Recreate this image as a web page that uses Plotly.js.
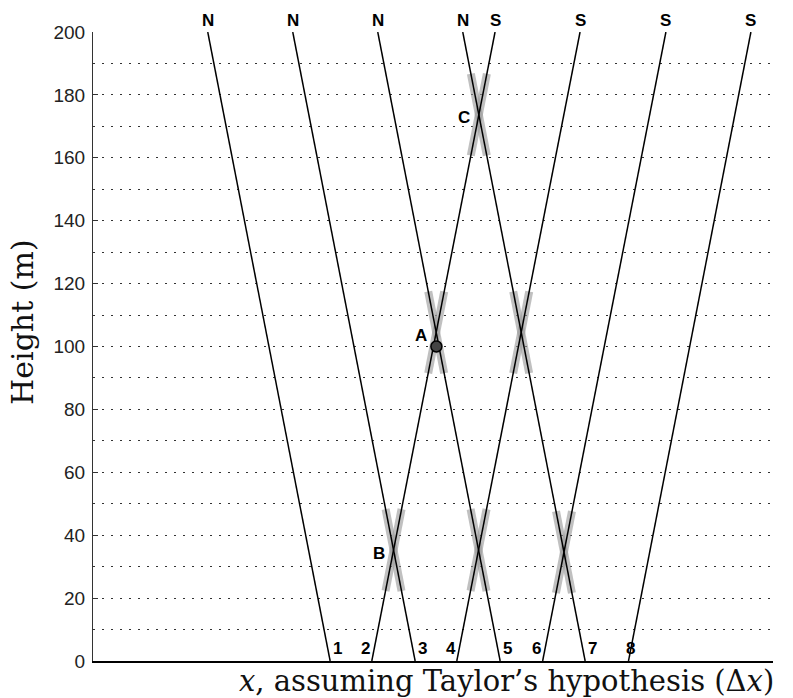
<!DOCTYPE html>
<html>
<head>
<meta charset="utf-8">
<script src="https://cdn.plot.ly/plotly-3.0.1.min.js"></script>
<style>html,body{margin:0;padding:0;background:#fff;}#chart{width:793px;height:698px;}</style>
</head>
<body>
<div id="chart"></div>
<script>
// ---- data ----
const nTopX = [1.35, 2.35, 3.35, 4.35];      // N lines, x at top (200 m)
const nBottomX = [2.79, 3.79, 4.79, 5.79];   // N lines, x at bottom (0 m)
const sBottomX = [3.28, 4.28, 5.29, 6.30];   // S lines, x at bottom (0 m)
const sTopX = [4.73, 5.73, 6.74, 7.74];      // S lines, x at top (200 m)
const heightBottom = 0;
const heightTop = 200;
const nLabel = 'N';
const sLabel = 'S';
const bottomNumbers = ['1','2','3','4','5','6','7','8'];
// crossings as [N line index, S line index]
const crossings = [[1,0],[2,1],[3,2],[2,0],[3,1],[3,0]];
const crossHalfSpan = 13;   // m, half height of grey X
const letterNames = ['B','A','C'];
const letterCrossing = [0, 3, 5];  // index into crossings
const pointAX = [4.04];
const pointAY = [100];
const yTicks = [0,20,40,60,80,100,120,140,160,180,200];

// ---- helpers ----
function lineX(x0, x1, h){ return x0 + (x1 - x0) * (h - heightBottom) / (heightTop - heightBottom); }
function crossing(ni, si){
  const a0 = nBottomX[ni], a1 = nTopX[ni], b0 = sBottomX[si], b1 = sTopX[si];
  const H = heightTop - heightBottom;
  const t = (b0 - a0) / ((a1 - a0) - (b1 - b0));
  const h = heightBottom + t * H;
  return {x: lineX(a0, a1, h), y: h};
}

const traces = [];
// grey X marks
crossings.forEach(([ni, si]) => {
  const c = crossing(ni, si);
  [[nBottomX[ni], nTopX[ni]], [sBottomX[si], sTopX[si]]].forEach(([x0, x1]) => {
    traces.push({
      x: [lineX(x0, x1, c.y - crossHalfSpan), lineX(x0, x1, c.y + crossHalfSpan)],
      y: [c.y - crossHalfSpan, c.y + crossHalfSpan],
      mode: 'lines', line: {color: 'rgba(150,150,150,0.6)', width: 8},
      hoverinfo: 'skip', showlegend: false
    });
  });
});
// black lines
for (let i = 0; i < nTopX.length; i++) {
  traces.push({x: [nBottomX[i], nTopX[i]], y: [heightBottom, heightTop], mode: 'lines',
    line: {color: '#000', width: 1.5}, showlegend: false, hoverinfo: 'skip'});
  traces.push({x: [sBottomX[i], sTopX[i]], y: [heightBottom, heightTop], mode: 'lines',
    line: {color: '#000', width: 1.5}, showlegend: false, hoverinfo: 'skip'});
}
// point A
traces.push({x: pointAX, y: pointAY, mode: 'markers',
  marker: {size: 11, color: '#444', line: {color: '#000', width: 1.5}},
  showlegend: false, hoverinfo: 'skip'});

const annotations = [];
const labFont = {family: 'Liberation Sans, Arial, sans-serif', size: 17, color: '#000'};
for (let i = 0; i < nTopX.length; i++) {
  annotations.push({x: nTopX[i], y: heightTop, text: '<b>' + nLabel + '</b>', showarrow: false,
    yshift: 12, font: labFont});
  annotations.push({x: sTopX[i], y: heightTop, text: '<b>' + sLabel + '</b>', showarrow: false,
    yshift: 12, font: labFont});
}
// bottom numbers: order along the bottom axis
const bottomXs = [];
for (let i = 0; i < nBottomX.length; i++) { bottomXs.push(nBottomX[i]); bottomXs.push(sBottomX[i]); }
const numShift = [7, -6, 7, -6, 7, -6, 7, 2];
bottomNumbers.forEach((t, i) => {
  annotations.push({x: bottomXs[i], y: heightBottom, text: '<b>' + t + '</b>', showarrow: false,
    yshift: 13, xshift: numShift[i], font: {family: 'Liberation Sans, Arial, sans-serif', size: 17, color: '#000'}});
});
letterNames.forEach((t, i) => {
  const c = crossing(...crossings[letterCrossing[i]]);
  annotations.push({x: c.x, y: c.y, text: '<b>' + t + '</b>', showarrow: false, xshift: -15, yshift: -3,
    font: labFont});
});
// axis titles
annotations.push({xref: 'paper', yref: 'paper', x: 1.004, xanchor: 'right', y: -0.032, yanchor: 'middle',
  text: '<i>x</i>, assuming Taylor’s hypothesis (Δ<i>x</i>)', showarrow: false,
  font: {family: 'DejaVu Serif, serif', size: 29, color: '#111'}});
annotations.push({xref: 'paper', yref: 'paper', x: -0.104, xanchor: 'center', y: 0.538, yanchor: 'middle',
  text: 'Height (m)', textangle: -90, showarrow: false,
  font: {family: 'DejaVu Serif, serif', size: 30, color: '#111'}});

const layout = {
  width: 793, height: 698,
  margin: {l: 93, r: 20, t: 32, b: 37},
  paper_bgcolor: '#fff', plot_bgcolor: '#fff',
  showlegend: false,
  xaxis: {range: [0, 8], showticklabels: false, ticks: '', showgrid: false, zeroline: false,
    showline: true, linecolor: '#000', linewidth: 1.5, fixedrange: true},
  yaxis: {range: [heightBottom, heightTop], tickvals: yTicks, ticks: 'inside', ticklen: 5, tickcolor: '#333',
    showline: true, linecolor: '#333', linewidth: 1, zeroline: false,
    showgrid: true, gridcolor: '#333', gridwidth: 1, griddash: '1.5px,7.5px',
    minor: {dtick: 10, showgrid: true, gridcolor: '#333', gridwidth: 1, griddash: '1.5px,7.5px', ticks: ''},
    tickfont: {family: 'Liberation Sans, Arial, sans-serif', size: 19, color: '#222'},
    ticklabelstandoff: 3, fixedrange: true}
};
layout.annotations = annotations;

Plotly.newPlot('chart', traces, layout, {staticPlot: true, displayModeBar: false});
</script>
</body>
</html>
